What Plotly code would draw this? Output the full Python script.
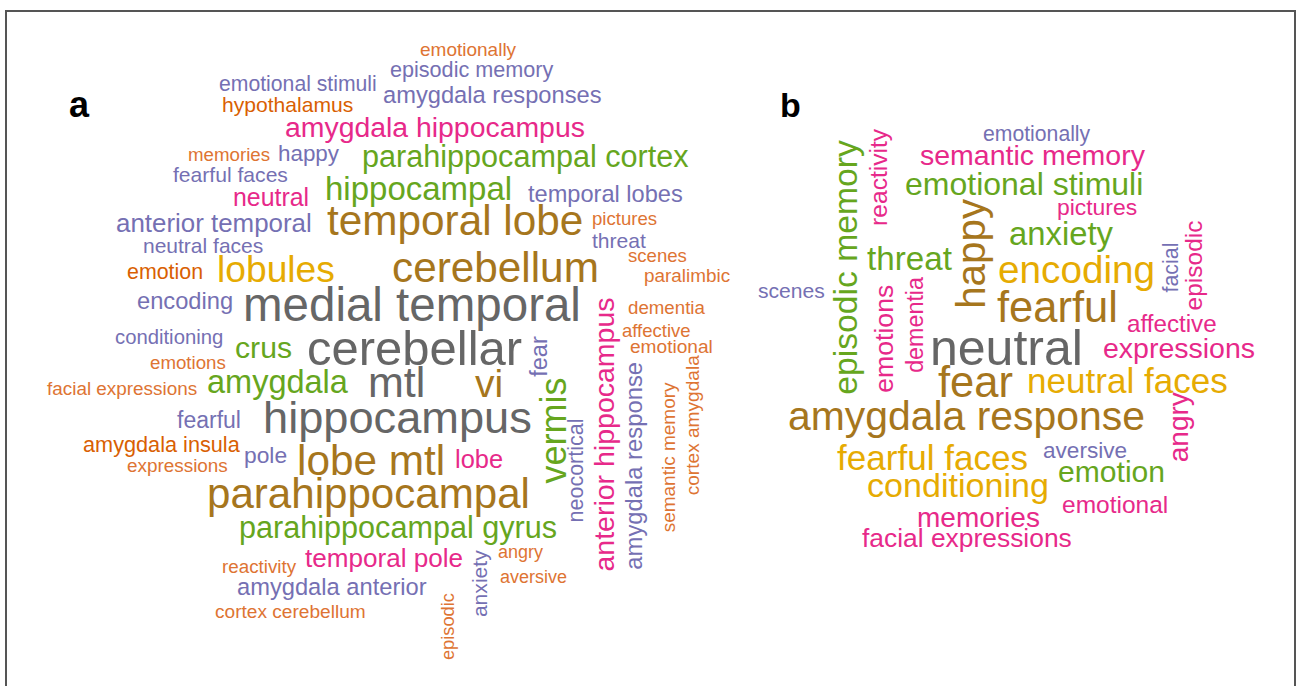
import plotly.graph_objects as go

# ---------------- data ----------------
# Panel a: words and their weights (weight -> font size)
words_a = ["emotionally", "episodic memory", "emotional stimuli", "amygdala responses", "hypothalamus",
           "amygdala hippocampus", "memories", "happy", "parahippocampal cortex", "fearful faces",
           "neutral", "hippocampal", "temporal lobes", "anterior temporal", "temporal lobe",
           "pictures", "threat", "neutral faces", "scenes", "lobules", "cerebellum", "emotion",
           "paralimbic", "encoding", "medial temporal", "dementia", "conditioning", "affective",
           "emotional", "crus", "cerebellar", "emotions", "facial expressions", "amygdala", "mtl",
           "vi", "fearful", "hippocampus", "amygdala insula", "expressions", "pole", "lobe mtl",
           "lobe", "parahippocampal", "parahippocampal gyrus", "reactivity", "temporal pole",
           "amygdala anterior", "cortex cerebellum", "angry", "aversive",
           "fear", "vermis", "neocortical", "anterior hippocampus", "amygdala response",
           "semantic memory", "cortex amygdala", "episodic", "anxiety"]
freq_a = [19.0, 21.6, 21.2, 23.7, 21.1,
          28.4, 18.7, 22.4, 30.6, 21.1,
          24.9, 33.0, 23.6, 25.9, 42.3,
          18.6, 21.1, 21.0, 18.6, 37.2, 42.3, 21.4,
          18.9, 23.7, 47.5, 18.7, 20.3, 18.5,
          19.1, 30.2, 49.0, 18.7, 18.9, 32.5, 43.0,
          39.0, 23.0, 45.2, 21.7, 18.9, 22.8, 42.3,
          25.4, 42.1, 30.6, 18.8, 26.1,
          23.7, 19.1, 18.0, 18.0,
          23.5, 36.0, 21.5, 28.5, 23.8,
          19.0, 19.1, 18.3, 21.1]

# Panel b
words_b = ["emotionally", "semantic memory", "emotional stimuli", "pictures", "anxiety", "threat",
           "encoding", "scenes", "fearful", "affective", "neutral", "expressions", "fear",
           "neutral faces", "amygdala response", "aversive", "fearful faces", "emotion",
           "conditioning", "emotional", "memories", "facial expressions",
           "reactivity", "episodic memory", "happy", "facial", "episodic", "emotions",
           "dementia", "angry"]
freq_b = [21.2, 28.5, 32.0, 22.9, 32.8, 33.2,
          38.7, 21.1, 43.5, 24.2, 50.0, 28.5, 43.5,
          35.1, 40.9, 22.6, 35.1, 30.1,
          34.1, 24.5, 28.0, 26.4,
          24.6, 33.7, 40.4, 21.4, 24.5, 26.6,
          23.3, 28.0]

panel_labels = ["a", "b"]

# ---------------- layout (word placement: x centre, baseline y, angle) ----------------
# horizontal words: (x centre, baseline y); vertical words: (baseline x, y centre)
place_a = {
    "emotionally": (468, 56, 0), "episodic memory": (471.5, 77, 0), "emotional stimuli": (298, 91, 0),
    "amygdala responses": (492.5, 103, 0), "hypothalamus": (287.5, 112, 0),
    "amygdala hippocampus": (435, 137, 0), "memories": (229, 161, 0), "happy": (308.5, 161, 0),
    "parahippocampal cortex": (525, 167, 0), "fearful faces": (230.5, 182, 0), "neutral": (271, 206, 0),
    "hippocampal": (418, 200, 0), "temporal lobes": (605.5, 202, 0), "anterior temporal": (214, 232, 0),
    "temporal lobe": (455, 235, 0), "pictures": (624.5, 225, 0), "threat": (619, 248, 0),
    "neutral faces": (203, 253, 0), "scenes": (657.5, 262, 0), "lobules": (276, 282, 0),
    "cerebellum": (495.5, 282, 0), "emotion": (165, 279, 0), "paralimbic": (687, 282, 0),
    "encoding": (185, 309, 0), "medial temporal": (412, 321, 0), "dementia": (666.5, 314, 0),
    "conditioning": (169, 344, 0), "affective": (656.5, 337, 0), "emotional": (671.5, 353, 0),
    "crus": (263.5, 358, 0), "cerebellar": (414, 365, 0), "emotions": (188, 369, 0),
    "facial expressions": (122, 395, 0), "amygdala": (277.5, 393, 0), "mtl": (396.5, 397, 0),
    "vi": (489, 397, 0), "fearful": (209, 428, 0), "hippocampus": (397.5, 433, 0),
    "amygdala insula": (161.5, 452, 0), "expressions": (177, 472, 0), "pole": (265.5, 463, 0),
    "lobe mtl": (371, 475, 0), "lobe": (479, 468, 0), "parahippocampal": (368.5, 508, 0),
    "parahippocampal gyrus": (397.5, 538, 0), "reactivity": (259, 573, 0),
    "temporal pole": (384, 567, 0), "amygdala anterior": (332, 595, 0),
    "cortex cerebellum": (290.5, 618, 0), "angry": (520.5, 558, 0), "aversive": (533.5, 583, 0),
    "fear": (547, 356, -90), "vermis": (566, 430, -90), "neocortical": (584, 470, -90),
    "anterior hippocampus": (613, 434.5, -90), "amygdala response": (641, 466, -90),
    "semantic memory": (675, 457, -90), "cortex amygdala": (699, 425, -90),
    "episodic": (454, 626.5, -90), "anxiety": (487, 583.5, -90),
}
place_b = {
    "emotionally": (1036.5, 141, 0), "semantic memory": (1032.5, 165, 0),
    "emotional stimuli": (1024, 195, 0), "pictures": (1097, 215, 0), "anxiety": (1061, 245, 0),
    "threat": (909.5, 270, 0), "encoding": (1076.5, 283, 0), "scenes": (791.5, 298, 0),
    "fearful": (1057.5, 322, 0), "affective": (1172, 332, 0), "neutral": (1006.5, 365, 0),
    "expressions": (1179, 358, 0), "fear": (975.5, 397, 0), "neutral faces": (1127.5, 393, 0),
    "amygdala response": (966.5, 430, 0), "aversive": (1085, 458, 0),
    "fearful faces": (932.5, 470, 0), "emotion": (1111.5, 482, 0), "conditioning": (957.5, 497, 0),
    "emotional": (1115, 513, 0), "memories": (978.5, 527, 0), "facial expressions": (967, 547, 0),
    "reactivity": (887, 176.5, -90), "episodic memory": (856, 267.5, -90), "happy": (985, 253, -90),
    "facial": (1178, 268, -90), "episodic": (1202, 265, -90), "emotions": (893, 339, -90),
    "dementia": (923, 325, -90), "angry": (1188, 427, -90),
}
label_place = {"a": (79, 117, 36), "b": (790, 117, 34)}

# ---------------- styles ----------------
OR = "#D95F02"; OL = "#DE7433"; PU = "#7570B3"; PK = "#E7298A"
GN = "#66A61E"; YL = "#E6AB02"; BR = "#A6761D"; GY = "#666666"
color_a = {
    "emotionally": OL, "episodic memory": PU, "emotional stimuli": PU, "amygdala responses": PU,
    "hypothalamus": OR, "amygdala hippocampus": PK, "memories": OL, "happy": PU,
    "parahippocampal cortex": GN, "fearful faces": PU, "neutral": PK, "hippocampal": GN,
    "temporal lobes": PU, "anterior temporal": PU, "temporal lobe": BR, "pictures": OL,
    "threat": PU, "neutral faces": PU, "scenes": OL, "lobules": YL, "cerebellum": BR,
    "emotion": OR, "paralimbic": OL, "encoding": PU, "medial temporal": GY, "dementia": OL,
    "conditioning": PU, "affective": OL, "emotional": OL, "crus": GN, "cerebellar": GY,
    "emotions": OL, "facial expressions": OL, "amygdala": GN, "mtl": GY, "vi": BR,
    "fearful": PU, "hippocampus": GY, "amygdala insula": OR, "expressions": OL, "pole": PU,
    "lobe mtl": BR, "lobe": PK, "parahippocampal": BR, "parahippocampal gyrus": GN,
    "reactivity": OL, "temporal pole": PK, "amygdala anterior": PU, "cortex cerebellum": OL,
    "angry": OL, "aversive": OL, "fear": PU, "vermis": GN, "neocortical": PU,
    "anterior hippocampus": PK, "amygdala response": PU, "semantic memory": OL,
    "cortex amygdala": OL, "episodic": OL, "anxiety": PU,
}
color_b = {
    "emotionally": PU, "semantic memory": PK, "emotional stimuli": GN, "pictures": PK,
    "anxiety": GN, "threat": GN, "encoding": YL, "scenes": PU, "fearful": BR, "affective": PK,
    "neutral": GY, "expressions": PK, "fear": BR, "neutral faces": YL, "amygdala response": BR,
    "aversive": PU, "fearful faces": YL, "emotion": GN, "conditioning": YL, "emotional": PK,
    "memories": PK, "facial expressions": PK, "reactivity": PK, "episodic memory": GN,
    "happy": BR, "facial": PU, "episodic": PK, "emotions": PK, "dementia": PK, "angry": PK,
}
FONT = "Liberation Sans, Arial, Helvetica, sans-serif"
BASE_OFF = 0.35  # distance from baseline to text-box centre, in em

W, H = 1297, 686
fig = go.Figure()
fig.add_trace(go.Scatter(x=[0, W], y=[0, H], mode="markers", marker=dict(opacity=0),
                         hoverinfo="skip", showlegend=False))


def add_words(words, freqs, place, colors):
    for w, f in zip(words, freqs):
        px, py, ang = place[w]
        if ang == 0:
            cx, cy = px, py - BASE_OFF * f
        else:
            cx, cy = px - BASE_OFF * f, py
        fig.add_annotation(x=cx, y=cy, xref="x", yref="y", text=w, showarrow=False,
                           textangle=ang, xanchor="center", yanchor="middle", borderpad=0,
                           font=dict(family=FONT, size=f, color=colors[w]))


add_words(words_a, freq_a, place_a, color_a)
add_words(words_b, freq_b, place_b, color_b)

for lab in panel_labels:
    lx, lb, ls = label_place[lab]
    fig.add_annotation(x=lx, y=lb - BASE_OFF * ls, xref="x", yref="y", text="<b>%s</b>" % lab,
                       showarrow=False, xanchor="center", yanchor="middle", borderpad=0,
                       font=dict(family=FONT, size=ls, color="#000000"))

fig.add_shape(type="rect", xref="x", yref="y", x0=6, x1=1295, y0=11, y1=690,
              line=dict(color="#555555", width=2), fillcolor="rgba(0,0,0,0)")

fig.update_layout(
    width=W, height=H, margin=dict(l=0, r=0, t=0, b=0),
    paper_bgcolor="white", plot_bgcolor="white", showlegend=False,
    xaxis=dict(range=[0, W], visible=False, fixedrange=True),
    yaxis=dict(range=[H, 0], visible=False, fixedrange=True),
)

fig.write_html("out.html", config={"displayModeBar": False},
               post_script="document.body.style.margin='0';document.body.style.overflow='hidden';")
